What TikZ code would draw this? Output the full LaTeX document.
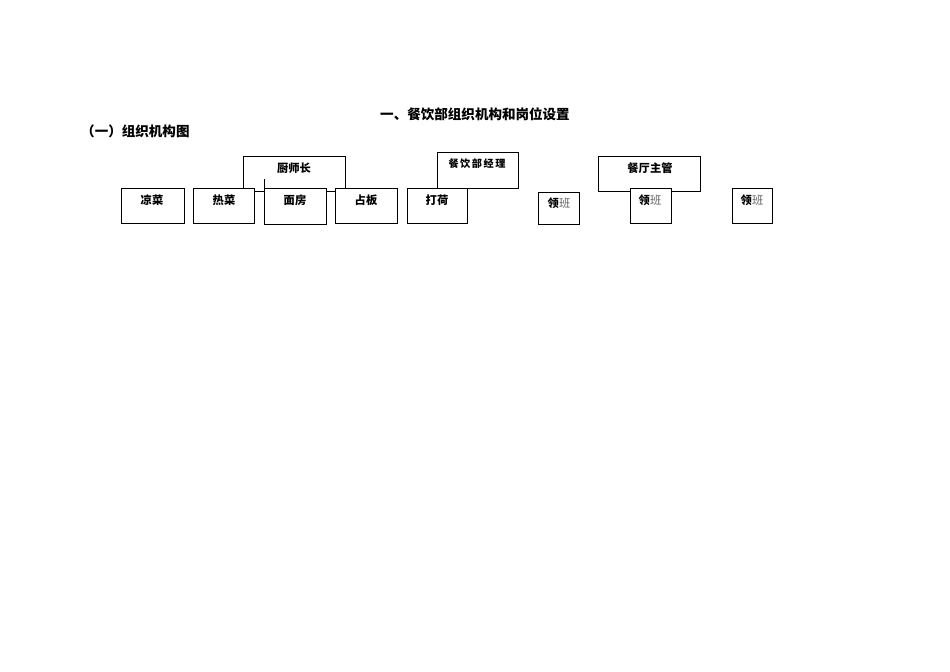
\documentclass[tikz,border=0pt]{standalone}
\usepackage{fontspec}
\setmainfont{Liberation Serif}
\newfontfamily\cjk{Noto Sans CJK SC}
\newfontfamily\cjkwide{Noto Sans CJK SC}[LetterSpace=15]
\usetikzlibrary{positioning}

\begin{document}
\begin{tikzpicture}[x=0.8863pt, y=-0.8863pt]
    % Colors and styles
    \definecolor{bangray}{RGB}{95,95,95}
    \tikzset{box/.style={draw, fill=white, line width=0.55pt},
             lbl/.style={inner sep=0pt, font=\cjk\bfseries\fontsize{10}{12}\selectfont}}
    \useasboundingbox (0,0) rectangle (950,672);

    % Headings
    \node[lbl, font=\cjk\bfseries\fontsize{12}{14}\selectfont] (title) at (475,114) {一、餐饮部组织机构和岗位设置};
    \node[lbl, anchor=west, font=\cjk\bfseries\fontsize{12}{14}\selectfont] (subtitle) at (81,131) {（一）组织机构图};

    % Upper boxes
    \draw[box] (243,156) rectangle (345,191);
    \draw[box] (437,152) rectangle (518,188);
    \draw[box] (598,156) rectangle (700,191);

    % Lower boxes
    \draw[box] (121,188) rectangle (184,223);
    \draw[box] (193,188) rectangle (254,223);
    \draw[box] (264,188) rectangle (326,224);
    \draw[line width=0.55pt] (264,179) -- (264,188);
    \draw[box] (335,188) rectangle (397,223);
    \draw[box] (407,188) rectangle (467,223);
    \draw[box] (538,192) rectangle (579,224);
    \draw[box] (630,188) rectangle (671,223);
    \draw[box] (732,188) rectangle (772,223);

    % Annotations within the boxes
    \node[lbl] (chushizhang) at (294,168) {厨师长};
    \node[lbl, font=\cjkwide\bfseries\fontsize{9}{11}\selectfont] (jingli) at (477,164) {餐饮部经理};
    \node[lbl] (zhuguan) at (650,168) {餐厅主管};
    \node[lbl] (liangcai) at (152,200) {凉菜};
    \node[lbl] (recai) at (224,200) {热菜};
    \node[lbl] (mianfang) at (295,200) {面房};
    \node[lbl] (zhanban) at (366,200) {占板};
    \node[lbl] (dahe) at (437,200) {打荷};
    \node[lbl] (lingban1) at (559,203) {领{\mdseries\color{bangray}班}};
    \node[lbl] (lingban2) at (650,200) {领{\mdseries\color{bangray}班}};
    \node[lbl] (lingban3) at (752,200) {领{\mdseries\color{bangray}班}};
\end{tikzpicture}
\end{document}
